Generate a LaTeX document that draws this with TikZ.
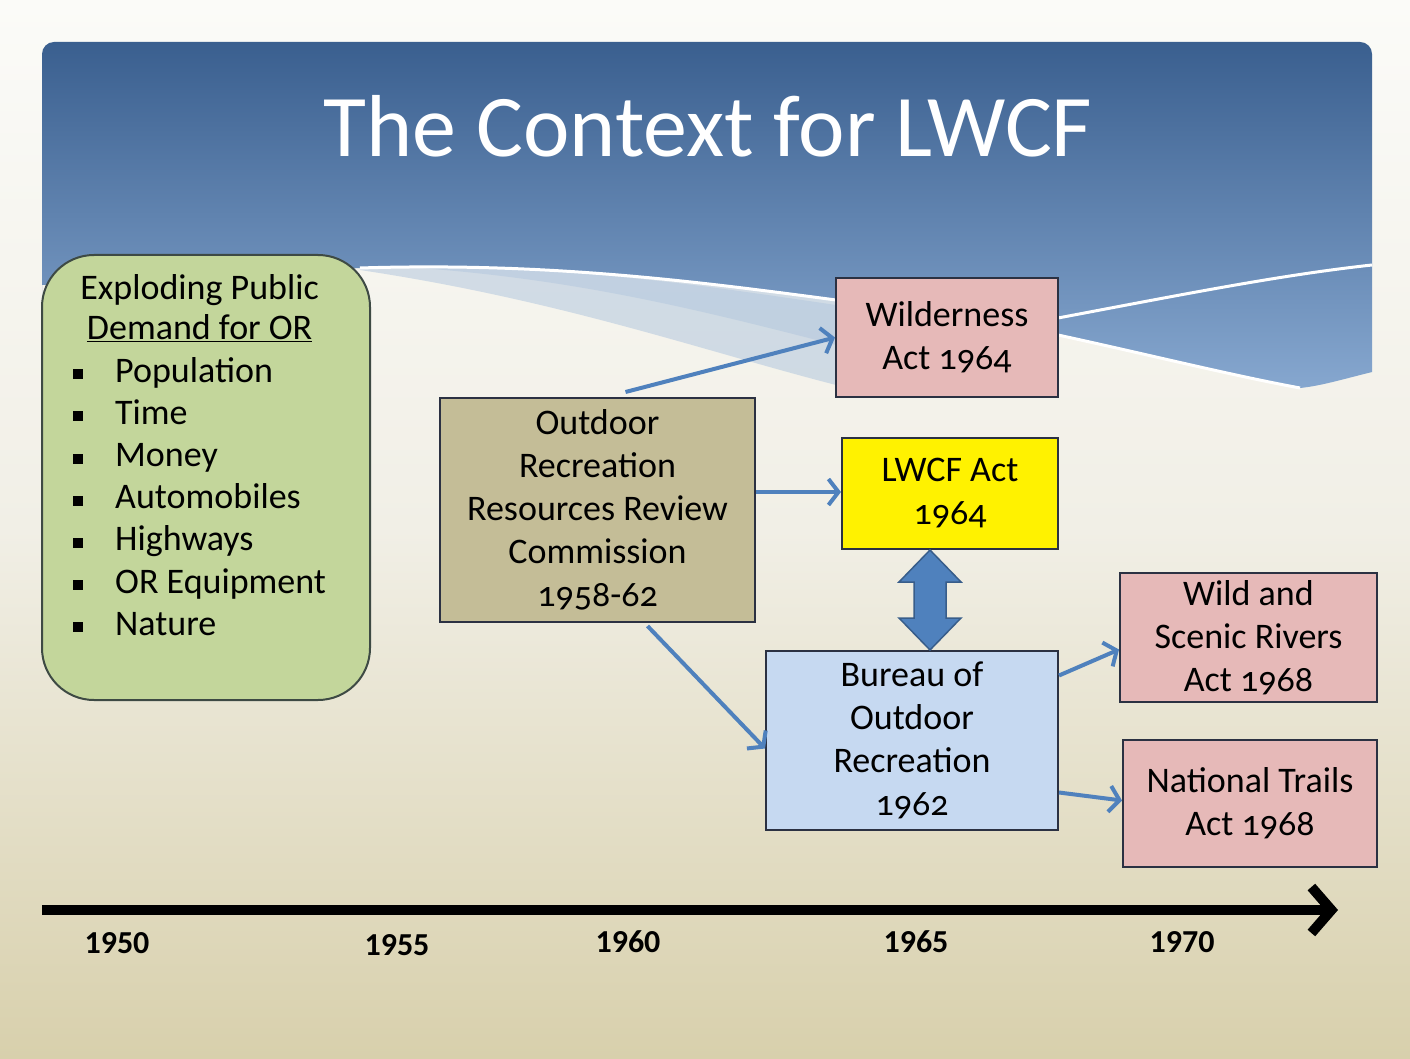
\documentclass[tikz,border=0pt]{standalone}
\usepackage{fontspec}
\setmainfont{Carlito}[Numbers=OldStyle]
\newfontfamily\yearfont{Carlito}[Numbers=Lining]
\usetikzlibrary{arrows.meta}
\definecolor{pageTop}{HTML}{FBFBF8}
\definecolor{pageMid}{HTML}{F1EFE6}
\definecolor{pageBot}{HTML}{D8D0AC}
\definecolor{blueTop}{HTML}{3A5F8F}
\definecolor{blueBot}{HTML}{86A7CF}
\definecolor{olivefill}{HTML}{C3D69B}
\definecolor{oliveline}{HTML}{3E4A44}
\definecolor{tanfill}{HTML}{C4BD97}
\definecolor{pinkfill}{HTML}{E6B9B8}
\definecolor{lbluefill}{HTML}{C6D9F1}
\definecolor{boxline}{HTML}{2B3142}
\definecolor{arrowblue}{HTML}{4F81BD}
\definecolor{arrowedge}{HTML}{385D8A}
\newcommand\bxfont{\fontsize{36}{43}\selectfont}
\tikzset{
  box/.style={draw=boxline, line width=2, inner sep=0, align=center, font=\bxfont, text=black},
  conn/.style={draw=arrowblue, line width=4, -{Straight Barb[length=10,width=26]}},
  yearlabel/.style={font=\yearfont\bfseries\fontsize{32}{36}\selectfont, text=black, inner sep=0},
}
\begin{document}
\begin{tikzpicture}[x=1pt,y=-1pt]
\useasboundingbox (0,0) rectangle (1410,1059);
% page background
\shade[top color=pageTop, bottom color=pageBot, middle color=pageMid] (0,0) rectangle (1410,1059);
% blue header area
\shade[top color=blueTop, bottom color=blueBot]
  (42,300) [rounded corners=12] -- (42,42) -- (1372,42) -- (1372,250) [sharp corners] -- (1372,372)
  .. controls (1340,380) and (1320,386) .. (1300,388)
  .. controls (1230,375) and (1150,355) .. (1058,335)
  -- (836,300)
  .. controls (700,282) and (550,262) .. (360,268)
  -- (42,285) -- cycle;
% light band under the left white line
\fill[blueBot!75!white, opacity=0.45]
  (360,268) .. controls (550,262) and (700,282) .. (836,300)
  -- (836,385) .. controls (700,350) and (560,300) .. (360,270) -- cycle;
\fill[blueBot!75!white, opacity=0.35]
  (420,268) .. controls (580,266) and (720,288) .. (836,305)
  -- (836,345) .. controls (700,310) and (580,280) .. (420,268) -- cycle;
% white wave lines
\draw[white, line width=3] (360,268) .. controls (550,262) and (700,282) .. (836,300);
\draw[white, line width=3] (1058,318) .. controls (1180,295) and (1280,275) .. (1372,265);
\draw[white, line width=3] (1058,335) .. controls (1150,355) and (1230,375) .. (1300,388);

% title
\node[anchor=base, text=white, font=\fontsize{88}{100}\selectfont, inner sep=0] (title) at (708,157) {The Context for LWCF};

% demand box
\node[draw=oliveline, line width=2, fill=olivefill, rounded corners=52, minimum width=328, minimum height=445, inner sep=0] (demand) at (206,477.5) {};
\node[anchor=north west, inner sep=0, font=\fontsize{36}{42.2}\selectfont, text=black] (demandtext) at (73,270) {%
\begin{tabular}{@{}p{42pt}@{}l@{}}
\multicolumn{2}{@{}c@{}}{Exploding Public}\\[-2pt]
\multicolumn{2}{@{}c@{}}{\underline{Demand for OR}}\\
\rule[3pt]{10pt}{10pt} & Population\\
\rule[3pt]{10pt}{10pt} & Time\\
\rule[3pt]{10pt}{10pt} & Money\\
\rule[3pt]{10pt}{10pt} & Automobiles\\
\rule[3pt]{10pt}{10pt} & Highways\\
\rule[3pt]{10pt}{10pt} & OR Equipment\\
\rule[3pt]{10pt}{10pt} & Nature
\end{tabular}};

% boxes
\node[box, fill=tanfill, minimum width=315, minimum height=224] (orrrc) at (597.5,510) {Outdoor\\Recreation\\Resources Review\\Commission\\1958-62};
\node[box, fill=pinkfill, minimum width=222, minimum height=119] (wild) at (947,337.5) {Wilderness\\Act 1964};
\node[box, fill=yellow, minimum width=216, minimum height=111] (lwcf) at (950,493.5) {LWCF Act\\1964};
\node[box, fill=lbluefill, minimum width=292, minimum height=179] (bor) at (912,740.5) {Bureau of\\Outdoor\\Recreation\\1962};
\node[box, fill=pinkfill, minimum width=257, minimum height=129] (wsr) at (1248.5,637.5) {Wild and\\Scenic Rivers\\Act 1968};
\node[box, fill=pinkfill, minimum width=254, minimum height=127] (nta) at (1250,803.5) {National Trails\\Act 1968};

% connectors
\draw[conn] ([shift={(28,-5)}]orrrc.north) -- (wild.west);
\draw[conn] (orrrc.east |- 0,492) -- (lwcf.west |- 0,492);
\draw[conn] ([shift={(50,3)}]orrrc.south) -- ([shift={(0,8)}]bor.west);
\draw[conn] ([shift={(0,-65)}]bor.east) -- ([shift={(0,12)}]wsr.west);
\draw[conn] ([shift={(0,52)}]bor.east) -- ([shift={(0,-3)}]nta.west);

% double block arrow LWCF <-> Bureau
\coordinate (dtop) at (930,550);
\coordinate (dbot) at (930,650);
\fill[arrowblue, draw=arrowedge, line width=1.5]
  (dtop) -- ++(31,32) -- ++(-15,0) -- ++(0,36) -- ++(15,0) -- (dbot)
  -- ++(-31,-32) -- ++(15,0) -- ++(0,-36) -- ++(-15,0) -- cycle;

% timeline
\coordinate (t0) at (42,910);
\coordinate (t1) at (1338,910);
\draw[line width=10, -{Straight Barb[length=20,width=46]}] (t0) -- (t1);
\node[yearlabel] (y1950) at (117,943) {1950};
\node[yearlabel] (y1955) at (397,945) {1955};
\node[yearlabel] (y1960) at (628,942) {1960};
\node[yearlabel] (y1965) at (916,942) {1965};
\node[yearlabel] (y1970) at (1182,942) {1970};
\end{tikzpicture}
\end{document}
